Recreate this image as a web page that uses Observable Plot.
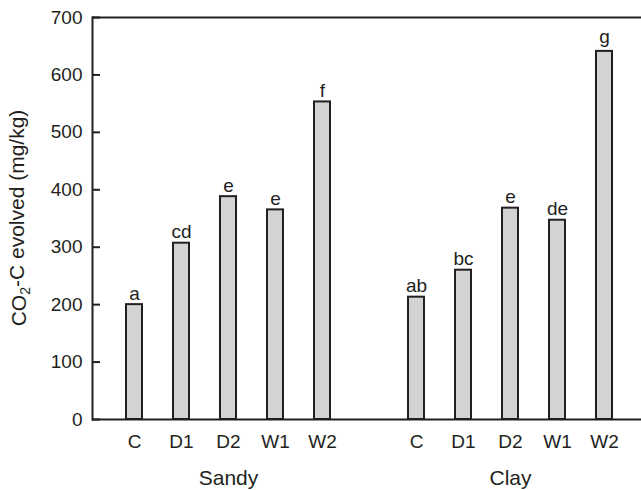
<!DOCTYPE html>
<html>
<head>
<meta charset="utf-8">
<script src="https://cdn.jsdelivr.net/npm/d3@7"></script>
<script src="https://cdn.jsdelivr.net/npm/@observablehq/plot@0.6"></script>
<style>
  html, body { margin: 0; padding: 0; background: white; }
</style>
</head>
<body>
<div id="chart"></div>
<script>
const groups = ["Sandy", "Clay"];
const treatments = ["C", "D1", "D2", "W1", "W2"];
const sandyValues = [200, 307, 388, 365, 553];
const clayValues = [213, 260, 368, 347, 641];
const sandyLetters = ["a", "cd", "e", "e", "f"];
const clayLetters = ["ab", "bc", "e", "de", "g"];
const yTicks = [0, 100, 200, 300, 400, 500, 600, 700];

const ink = "#231f20";
const values = {Sandy: sandyValues, Clay: clayValues};
const letters = {Sandy: sandyLetters, Clay: clayLetters};

const data = [];
for (const g of groups) {
  treatments.forEach((t, i) => {
    data.push({key: g + "-" + t, group: g, treatment: t, value: values[g][i], letter: letters[g][i]});
  });
}
const domain = [
  ...treatments.map(t => "Sandy-" + t),
  "gap",
  ...treatments.map(t => "Clay-" + t)
];
const tickLabel = new Map(data.map(d => [d.key, d.treatment]));
const groupRows = groups.map(g => ({group: g, key: g + "-D2"}));
const hasDescender = d => /[gjpqy]/.test(d.letter);

const plot = Plot.plot({
  width: 641,
  height: 490,
  marginLeft: 92,
  marginRight: 0,
  marginTop: 17,
  marginBottom: 71,
  style: {fontFamily: "'Liberation Sans', Arial, sans-serif", fontSize: "19px", color: ink, background: "white"},
  x: {type: "band", domain, paddingInner: 0.67, paddingOuter: 0.675, align: 0.54},
  y: {domain: [0, 700]},
  marks: [
    Plot.barY(data, {x: "key", y: "value", fill: "#d3d3d5", stroke: ink, strokeWidth: 2}),
    Plot.text(data.filter(d => !hasDescender(d)), {x: "key", y: "value", text: "letter", dy: -5, lineAnchor: "bottom", fill: ink, fontSize: 19}),
    Plot.text(data.filter(hasDescender), {x: "key", y: "value", text: "letter", dy: -8, lineAnchor: "bottom", fill: ink, fontSize: 19}),
    Plot.ruleY([0, 700], {stroke: ink, strokeWidth: 2}),
    Plot.frame({anchor: "left", stroke: ink, strokeWidth: 2}),
    Plot.tickY(yTicks, {y: d => d, stroke: ink, strokeWidth: 2, insetRight: 541}),
    Plot.axisY({ticks: yTicks, tickSize: 0, tickPadding: 10, stroke: ink, label: null, fontSize: 19, fill: ink}),
    Plot.axisX({tickSize: 0, tickPadding: 15, tickFormat: k => tickLabel.get(k) ?? "", label: null, fontSize: 19, fill: ink}),
    Plot.text(groupRows, {x: "key", text: "group", frameAnchor: "bottom", dy: 59, lineAnchor: "middle", fontSize: 21, fill: ink})
  ]
});

document.getElementById("chart").appendChild(plot);

// y-axis label with a real subscript
const yr = plot.scale("y").range;
const yMid = (yr[0] + yr[1]) / 2;
const lbl = d3.select(plot).append("text")
  .attr("transform", `translate(26,${yMid}) rotate(-90)`)
  .attr("text-anchor", "middle")
  .attr("fill", ink)
  .style("font-family", "'Liberation Sans', Arial, sans-serif")
  .style("font-size", "21px");
lbl.append("tspan").text("CO");
lbl.append("tspan").attr("dy", "0.3em").style("font-size", "14px").text("2");
lbl.append("tspan").attr("dy", "-0.3em").text("-C evolved (mg/kg)");
</script>
</body>
</html>
